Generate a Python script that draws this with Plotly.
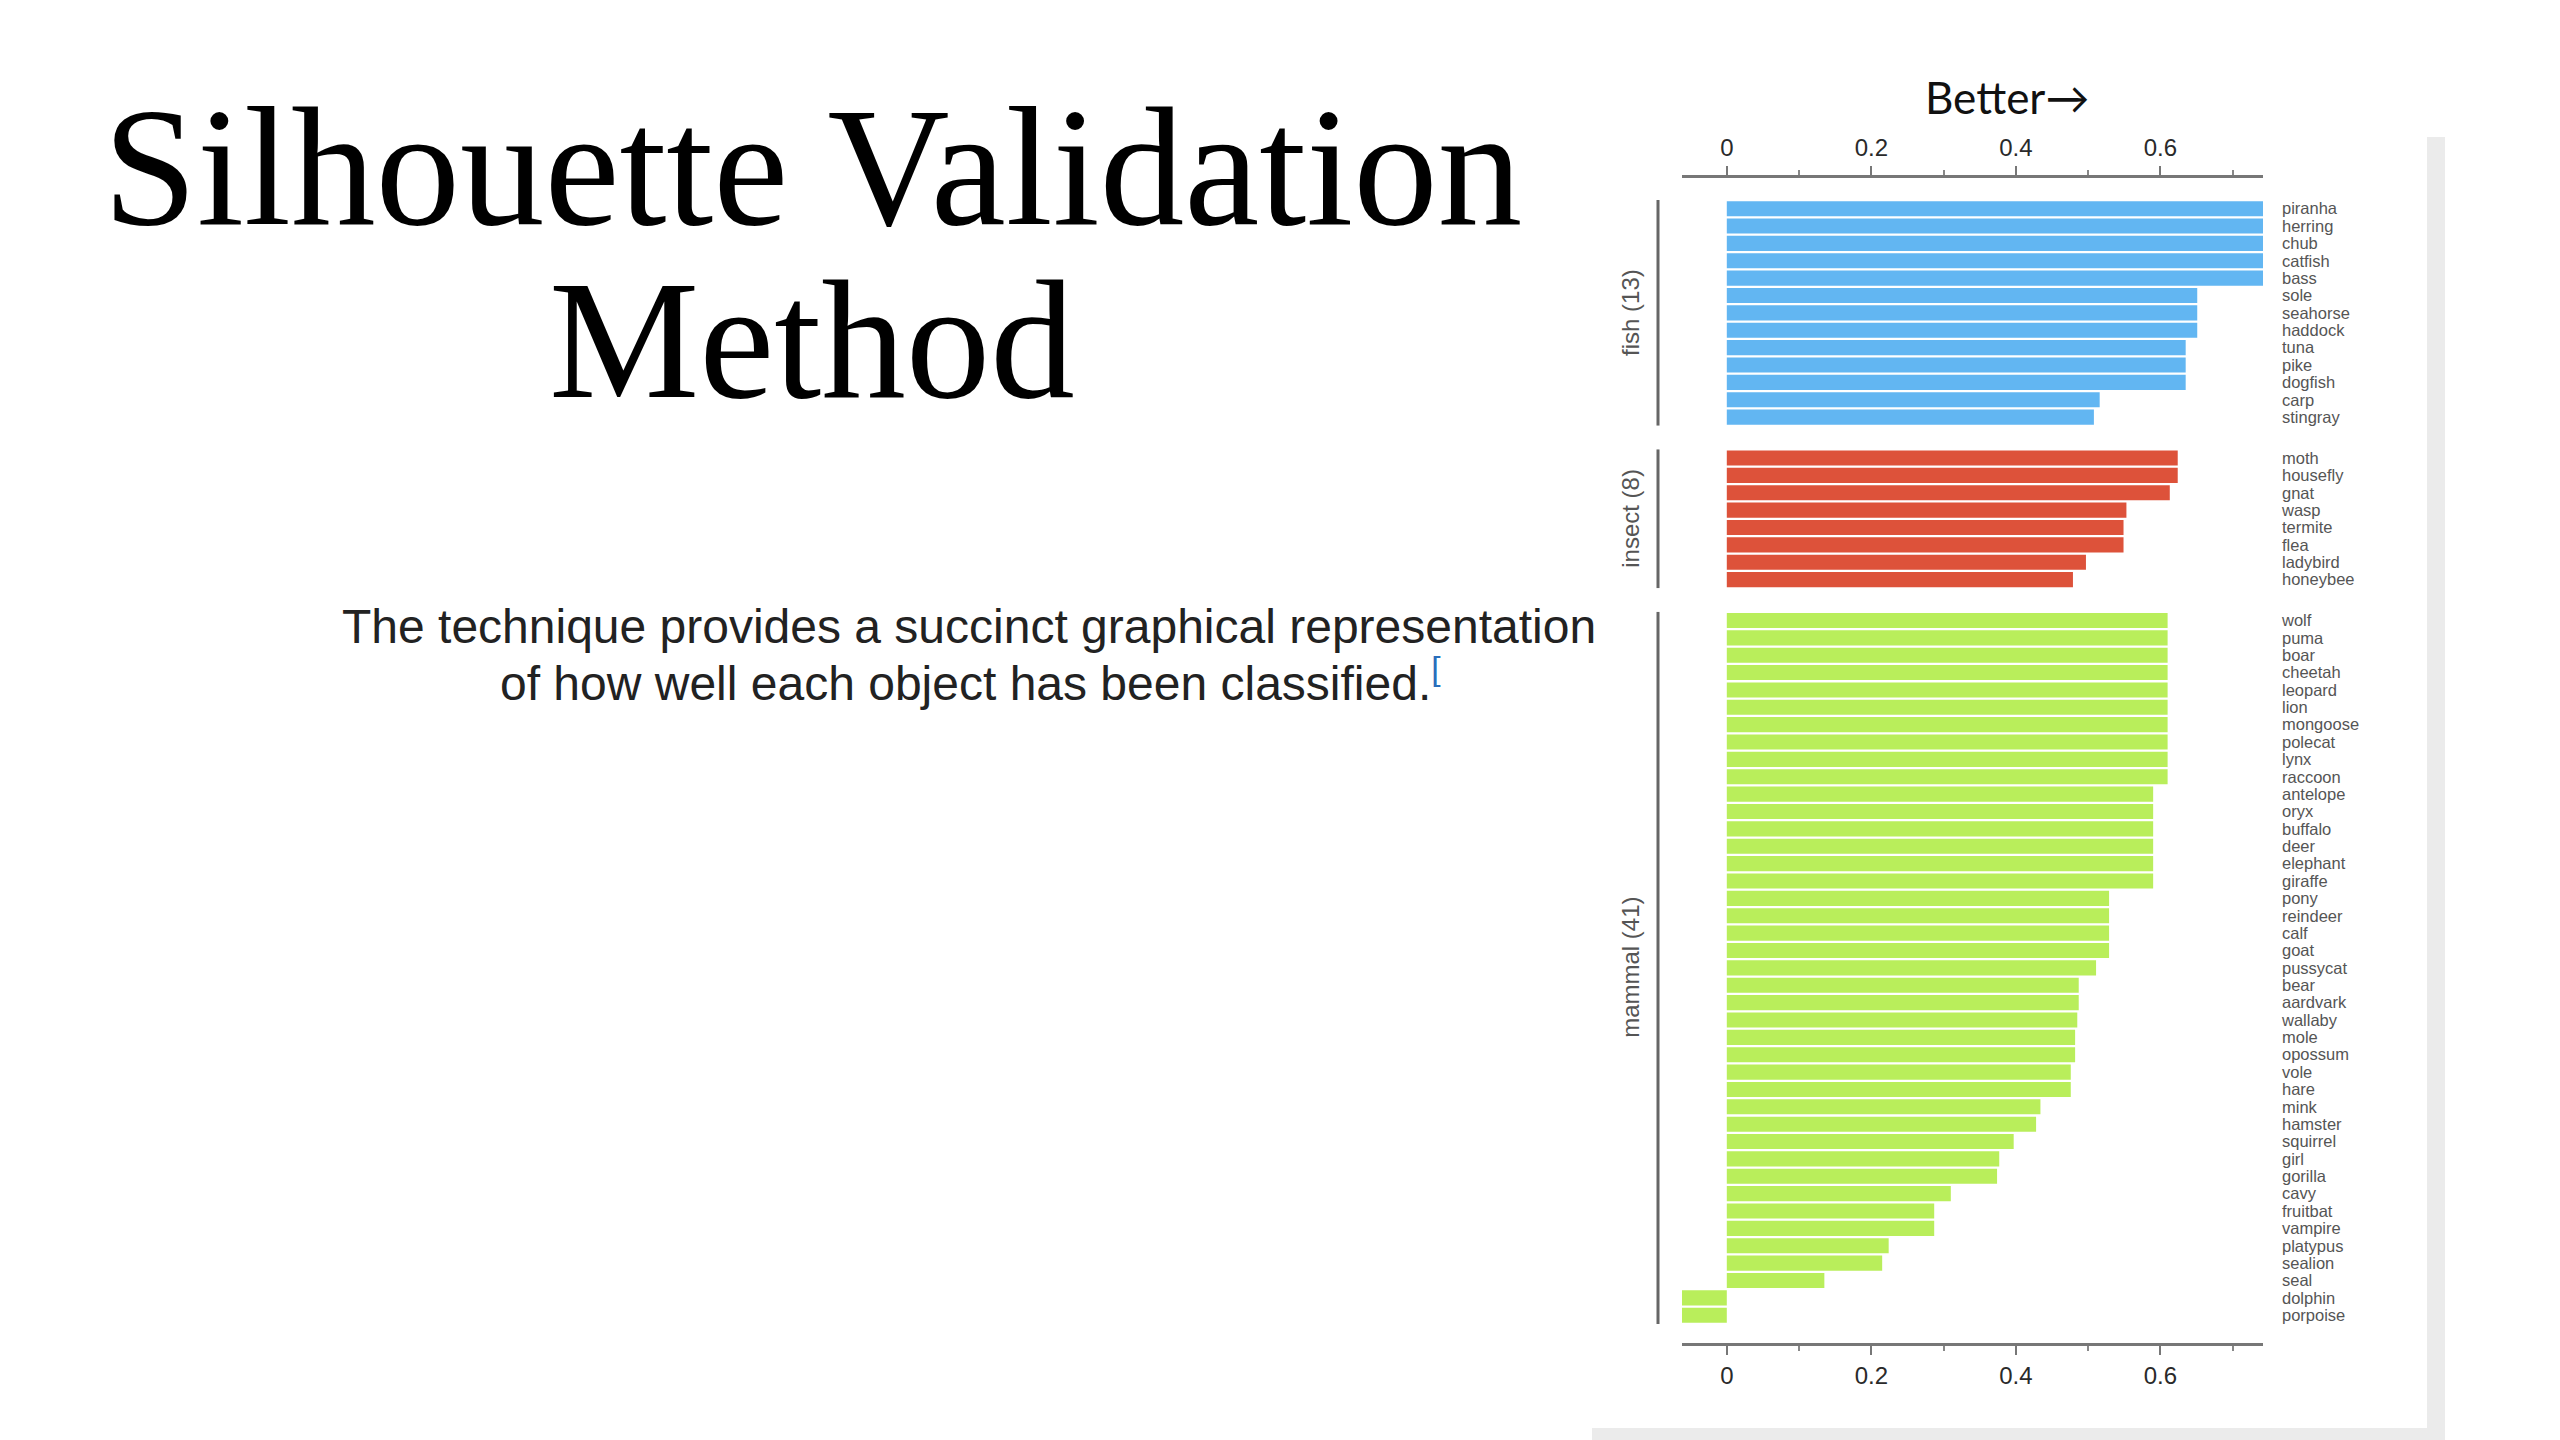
import plotly.graph_objects as go

# silhouette values, one list per cluster (top to bottom)
fish_names = ["piranha", "herring", "chub", "catfish", "bass", "sole", "seahorse",
              "haddock", "tuna", "pike", "dogfish", "carp", "stingray"]
fish_vals = [0.742, 0.742, 0.742, 0.742, 0.742, 0.651, 0.651,
             0.651, 0.635, 0.635, 0.635, 0.516, 0.508]

insect_names = ["moth", "housefly", "gnat", "wasp", "termite", "flea", "ladybird", "honeybee"]
insect_vals = [0.624, 0.624, 0.613, 0.553, 0.549, 0.549, 0.497, 0.479]

mammal_names = ["wolf", "puma", "boar", "cheetah", "leopard", "lion", "mongoose", "polecat",
                "lynx", "raccoon", "antelope", "oryx", "buffalo", "deer", "elephant", "giraffe",
                "pony", "reindeer", "calf", "goat", "pussycat", "bear", "aardvark", "wallaby",
                "mole", "opossum", "vole", "hare", "mink", "hamster", "squirrel", "girl",
                "gorilla", "cavy", "fruitbat", "vampire", "platypus", "sealion", "seal",
                "dolphin", "porpoise"]
mammal_vals = [0.610, 0.610, 0.610, 0.610, 0.610, 0.610, 0.610, 0.610,
               0.610, 0.610, 0.590, 0.590, 0.590, 0.590, 0.590, 0.590,
               0.529, 0.529, 0.529, 0.529, 0.511, 0.487, 0.487, 0.485,
               0.482, 0.482, 0.476, 0.476, 0.434, 0.428, 0.397, 0.377,
               0.374, 0.310, 0.287, 0.287, 0.224, 0.215, 0.135,
               -0.062, -0.062]

groups = [
    ("fish", fish_names, fish_vals, "#62b6f2"),
    ("insect", insect_names, insect_vals, "#dd523a"),
    ("mammal", mammal_names, mammal_vals, "#b9ee5b"),
]

W, H = 2560, 1440
OFF = 8  # the page body has an 8px margin


def px(x):
    return (x - OFF) / W


def py(y):
    return 1 - (y - OFF) / H


# pixel layout of the chart card
pitch = 17.37
top_axis = 178
bot_axis = 1343
group_gap = 23.5
pad_top = 22
x_left, x_right = 1682, 2263

all_vals = fish_vals + insect_vals + mammal_vals
xrange = [min(all_vals), max(all_vals)]

fig = go.Figure()
layout = dict(
    width=W, height=H,
    margin=dict(l=0, r=0, t=0, b=0),
    paper_bgcolor="white", plot_bgcolor="white",
    showlegend=False, bargap=0.13,
    font=dict(family="Liberation Sans", color="#333"),
)

axis_style = dict(
    range=xrange, domain=[px(x_left), px(x_right)],
    showgrid=False, zeroline=False,
    showline=True, linewidth=3, linecolor="#777",
    ticks="outside", ticklen=9, tickwidth=2, tickcolor="#777",
    tick0=0, dtick=0.2,
    minor=dict(ticks="outside", ticklen=5, tickwidth=1.5, tickcolor="#888", tick0=0, dtick=0.1),
    tickfont=dict(size=24, color="#2a2a2a", family="Liberation Sans"),
)


def text_ann(text, x, y, size, family, color, **kw):
    d = dict(text=text, x=px(x), y=py(y), xref="paper", yref="paper",
             xanchor="center", yanchor="middle", showarrow=False,
             font=dict(size=size, color=color, family=family))
    d.update(kw)
    return d


shapes = []
annotations = []
y_cursor = top_axis + pad_top
for i, (gname, names, vals, color) in enumerate(groups):
    k = "" if i == 0 else str(i + 1)
    n = len(names)
    bars_top = y_cursor
    bars_bot = y_cursor + n * pitch
    dom_top = top_axis if i == 0 else bars_top
    dom_bot = bot_axis if i == len(groups) - 1 else bars_bot
    lo = -0.5 - (bars_top - dom_top) / pitch
    hi = n - 0.5 + (dom_bot - bars_bot) / pitch

    fig.add_trace(go.Bar(
        x=vals, y=names, orientation="h",
        marker=dict(color=color, line=dict(width=0)),
        xaxis="x" + k, yaxis="y" + k,
        hovertemplate="%{y}: %{x:.3f}<extra></extra>",
    ))

    xa = dict(axis_style, anchor="y" + k)
    if i == 0:
        xa["side"] = "top"
    elif i < len(groups) - 1:
        xa.update(showline=False, ticks="", showticklabels=False, minor=dict(ticks=""))
    if i > 0:
        xa["matches"] = "x"
    layout["xaxis" + k] = xa

    layout["yaxis" + k] = dict(
        type="category", categoryorder="array", categoryarray=names,
        tickmode="array", tickvals=names, ticktext=names,
        range=[hi, lo], domain=[py(dom_bot), py(dom_top)],
        anchor="x" + k, side="right",
        showgrid=False, zeroline=False, showline=False, ticks="",
        ticklabelstandoff=18,
        tickfont=dict(size=16.5, color="#555", family="Liberation Sans"),
    )

    # cluster bracket and label on the left
    shapes.append(dict(type="line", xref="paper", yref="y" + k,
                       x0=px(1658), x1=px(1658), y0=-0.5, y1=n - 0.5,
                       line=dict(color="#666", width=3)))
    annotations.append(text_ann("%s (%d)" % (gname, n), 1631, (bars_top + bars_bot) / 2,
                                24, "Liberation Sans", "#555", textangle=-90))

    y_cursor = bars_bot + group_gap

# card shadow at right and bottom
shapes.append(dict(type="rect", xref="paper", yref="paper", layer="below",
                   x0=px(2427), x1=px(2445), y0=py(1448), y1=py(137),
                   fillcolor="#ebebeb", line=dict(width=0)))
shapes.append(dict(type="rect", xref="paper", yref="paper", layer="below",
                   x0=px(1592), x1=px(2445), y0=py(1448), y1=py(1428),
                   fillcolor="#ebebeb", line=dict(width=0)))

# slide texts
annotations += [
    text_ann("Better\u2192", 2007, 97, 44, "Lato", "#111"),
    text_ann("Silhouette Validation", 812, 167, 169, "Liberation Serif", "black"),
    text_ann("Method", 812, 340, 169, "Liberation Serif", "black"),
    text_ann("The technique provides a succinct graphical representation",
             969, 626, 48, "Liberation Sans", "#222"),
    text_ann("of how well each object has been classified."
             "<sup><span style='color:#2a6ebb'>[</span></sup>",
             970, 680, 48, "Liberation Sans", "#222"),
]

layout["shapes"] = shapes
layout["annotations"] = annotations
fig.update_layout(**layout)

fig.write_html("out.html")
